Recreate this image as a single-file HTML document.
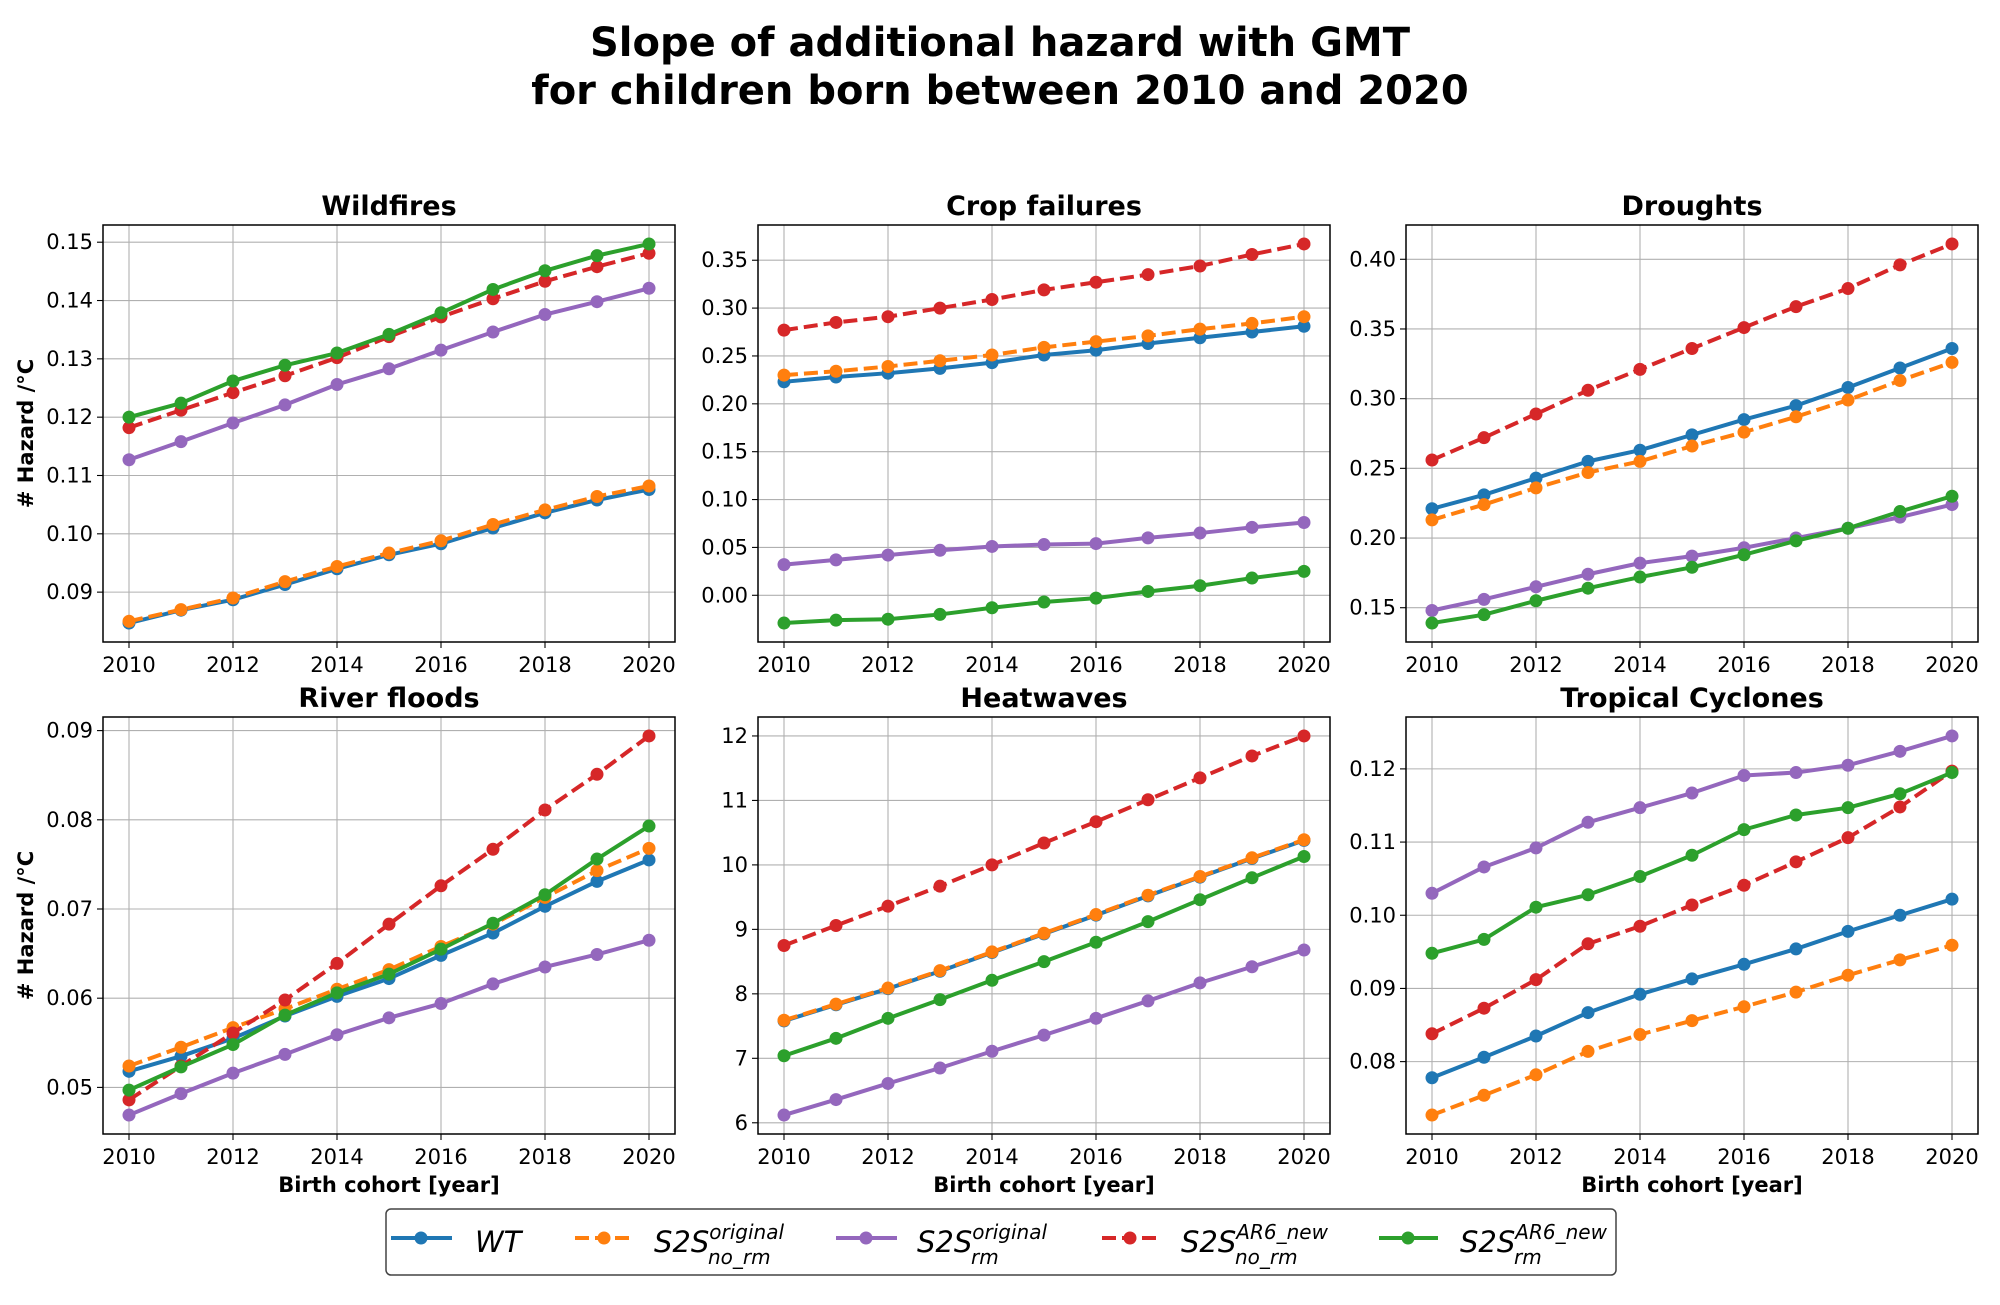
<!DOCTYPE html>
<html><head><meta charset="utf-8"><style>
body{margin:0;background:#fff;width:2000px;height:1300px;overflow:hidden}
svg text{font-family:"DejaVu Sans","Liberation Sans",sans-serif}
</style></head><body>
<svg id="fig" width="2000" height="1300" xmlns="http://www.w3.org/2000/svg">
<text x="1000" y="56" text-anchor="middle" font-size="40" font-weight="bold">Slope of additional hazard with GMT</text>
<text x="1000" y="104" text-anchor="middle" font-size="40" font-weight="bold">for children born between 2010 and 2020</text>
<g id="panels"></g>
<g>
<rect x="386" y="1209" width="1230" height="66" rx="5" fill="#fff" stroke="#444" stroke-width="1.5"/>
<g>
<line x1="391" y1="1238" x2="452" y2="1238" stroke="#1f77b4" stroke-width="4"/><circle cx="421" cy="1238" r="6.5" fill="#1f77b4"/>
<text x="475" y="1252" font-size="29" font-style="italic">WT</text></g>
<g>
<line x1="575" y1="1238" x2="633" y2="1238" stroke="#ff7f0e" stroke-width="4" stroke-dasharray="14,6"/><circle cx="604" cy="1238" r="6.5" fill="#ff7f0e"/>
<text x="654" y="1252" font-size="29" font-style="italic">S2S<tspan font-size="20" dy="-13">original</tspan><tspan font-size="20" x="708" dy="25">no_rm</tspan></text></g>
<g>
<line x1="836" y1="1238" x2="897" y2="1238" stroke="#9467bd" stroke-width="4"/><circle cx="866" cy="1238" r="6.5" fill="#9467bd"/>
<text x="917" y="1252" font-size="29" font-style="italic">S2S<tspan font-size="20" dy="-13">original</tspan><tspan font-size="20" x="971" dy="25">rm</tspan></text></g>
<g>
<line x1="1102" y1="1238" x2="1158" y2="1238" stroke="#d62728" stroke-width="4" stroke-dasharray="14,6"/><circle cx="1130" cy="1238" r="6.5" fill="#d62728"/>
<text x="1181" y="1252" font-size="29" font-style="italic">S2S<tspan font-size="20" dy="-13">AR6_new</tspan><tspan font-size="20" x="1235" dy="25">no_rm</tspan></text></g>
<g>
<line x1="1379" y1="1238" x2="1438" y2="1238" stroke="#2ca02c" stroke-width="4"/><circle cx="1408" cy="1238" r="6.5" fill="#2ca02c"/>
<text x="1460" y="1252" font-size="29" font-style="italic">S2S<tspan font-size="20" dy="-13">AR6_new</tspan><tspan font-size="20" x="1514" dy="25">rm</tspan></text></g>
</g>
</svg>
<script>
const years=[2010,2011,2012,2013,2014,2015,2016,2017,2018,2019,2020];
const xTicks=[2010,2012,2014,2016,2018,2020];
const titles=["Wildfires","Crop failures","Droughts","River floods","Heatwaves","Tropical Cyclones"];
const wtWildfires=[0.0847,0.0869,0.0887,0.0913,0.0940,0.0964,0.0983,0.1010,0.1036,0.1058,0.1076];
const origNoRmWildfires=[0.0850,0.0870,0.0890,0.0918,0.0944,0.0967,0.0988,0.1016,0.1041,0.1064,0.1082];
const origRmWildfires=[0.1127,0.1158,0.1190,0.1221,0.1256,0.1283,0.1315,0.1346,0.1376,0.1398,0.1421];
const ar6NoRmWildfires=[0.1182,0.1212,0.1242,0.1271,0.1302,0.1338,0.1372,0.1403,0.1433,0.1458,0.1481];
const ar6RmWildfires=[0.1200,0.1224,0.1262,0.1289,0.1310,0.1342,0.1379,0.1419,0.1451,0.1477,0.1497];
const wtCrop=[0.223,0.228,0.232,0.237,0.243,0.251,0.256,0.263,0.269,0.275,0.281];
const origNoRmCrop=[0.230,0.234,0.239,0.245,0.251,0.259,0.265,0.271,0.278,0.284,0.291];
const origRmCrop=[0.032,0.037,0.042,0.047,0.051,0.053,0.054,0.060,0.065,0.071,0.076];
const ar6NoRmCrop=[0.277,0.285,0.291,0.300,0.309,0.319,0.327,0.335,0.344,0.356,0.367];
const ar6RmCrop=[-0.029,-0.026,-0.025,-0.020,-0.013,-0.007,-0.003,0.004,0.010,0.018,0.025];
const wtDrought=[0.221,0.231,0.243,0.255,0.263,0.274,0.285,0.295,0.308,0.322,0.336];
const origNoRmDrought=[0.213,0.224,0.236,0.247,0.255,0.266,0.276,0.287,0.299,0.313,0.326];
const origRmDrought=[0.148,0.156,0.165,0.174,0.182,0.187,0.193,0.200,0.207,0.215,0.224];
const ar6NoRmDrought=[0.256,0.272,0.289,0.306,0.321,0.336,0.351,0.366,0.379,0.396,0.411];
const ar6RmDrought=[0.139,0.145,0.155,0.164,0.172,0.179,0.188,0.198,0.207,0.219,0.230];
const wtFlood=[0.0518,0.0535,0.0555,0.0580,0.0602,0.0622,0.0648,0.0673,0.0703,0.0731,0.0755];
const origNoRmFlood=[0.0524,0.0545,0.0567,0.0588,0.0610,0.0632,0.0658,0.0683,0.0713,0.0743,0.0768];
const origRmFlood=[0.0469,0.0493,0.0516,0.0537,0.0559,0.0578,0.0594,0.0616,0.0635,0.0649,0.0665];
const ar6NoRmFlood=[0.0486,0.0524,0.0561,0.0598,0.0639,0.0683,0.0726,0.0767,0.0811,0.0851,0.0894];
const ar6RmFlood=[0.0497,0.0523,0.0548,0.0581,0.0606,0.0627,0.0655,0.0684,0.0716,0.0756,0.0793];
const wtHeat=[7.58,7.83,8.08,8.35,8.64,8.93,9.22,9.52,9.81,10.10,10.38];
const origNoRmHeat=[7.59,7.84,8.09,8.36,8.65,8.94,9.23,9.53,9.82,10.11,10.39];
const origRmHeat=[6.12,6.36,6.61,6.85,7.11,7.36,7.62,7.89,8.17,8.42,8.68];
const ar6NoRmHeat=[8.75,9.06,9.36,9.67,10.00,10.34,10.67,11.01,11.35,11.69,12.00];
const ar6RmHeat=[7.04,7.31,7.62,7.91,8.21,8.50,8.80,9.12,9.46,9.80,10.13];
const wtTC=[0.0778,0.0806,0.0835,0.0867,0.0892,0.0913,0.0933,0.0954,0.0978,0.1000,0.1022];
const origNoRmTC=[0.0727,0.0754,0.0782,0.0814,0.0837,0.0856,0.0875,0.0895,0.0918,0.0939,0.0959];
const origRmTC=[0.1030,0.1066,0.1092,0.1127,0.1147,0.1167,0.1191,0.1195,0.1205,0.1224,0.1245];
const ar6NoRmTC=[0.0838,0.0873,0.0912,0.0961,0.0985,0.1014,0.1041,0.1073,0.1106,0.1148,0.1197];
const ar6RmTC=[0.0948,0.0967,0.1011,0.1028,0.1053,0.1082,0.1117,0.1137,0.1147,0.1166,0.1195];
const yTicksWildfires=[0.09,0.10,0.11,0.12,0.13,0.14,0.15];
const yTicksCrop=[0.00,0.05,0.10,0.15,0.20,0.25,0.30,0.35];
const yTicksDrought=[0.15,0.20,0.25,0.30,0.35,0.40];
const yTicksFlood=[0.05,0.06,0.07,0.08,0.09];
const yTicksHeat=[6,7,8,9,10,11,12];
const yTicksTC=[0.08,0.09,0.10,0.11,0.12];

const panelData=[
 [wtWildfires,origNoRmWildfires,origRmWildfires,ar6NoRmWildfires,ar6RmWildfires],
 [wtCrop,origNoRmCrop,origRmCrop,ar6NoRmCrop,ar6RmCrop],
 [wtDrought,origNoRmDrought,origRmDrought,ar6NoRmDrought,ar6RmDrought],
 [wtFlood,origNoRmFlood,origRmFlood,ar6NoRmFlood,ar6RmFlood],
 [wtHeat,origNoRmHeat,origRmHeat,ar6NoRmHeat,ar6RmHeat],
 [wtTC,origNoRmTC,origRmTC,ar6NoRmTC,ar6RmTC]];
const panelTicks=[yTicksWildfires,yTicksCrop,yTicksDrought,yTicksFlood,yTicksHeat,yTicksTC];
const tickDigits=[2,2,2,2,0,2];
const colors=["#1f77b4","#ff7f0e","#9467bd","#d62728","#2ca02c"];
const dashed=[false,true,false,true,false];
const seriesNames=["wt","s2s-original-no-rm","s2s-original-rm","s2s-ar6-no-rm","s2s-ar6-rm"];
const drawOrder=[0,1,2,3,4];

const NS="http://www.w3.org/2000/svg";
const root=document.getElementById("panels");
function mk(tag,attrs,parent){const e=document.createElementNS(NS,tag);for(const k in attrs)e.setAttribute(k,attrs[k]);parent.appendChild(e);return e;}
const colX=[103,758,1406], W=572, rowY=[225,717], H=417;

for(let p=0;p<6;p++){
 const c=p%3, r=Math.floor(p/3);
 const L=colX[c], T=rowY[r];
 const g=mk("g",{},root);
 
 
 const all=[].concat(...panelData[p]);
 let mn=Math.min(...all), mx=Math.max(...all), rg=mx-mn;
 const y0=mn-0.05*rg, y1=mx+0.05*rg;
 const sx=v=>L+(v-2009.5)/11*W;
 const sy=v=>T+H-(v-y0)/(y1-y0)*H;
 xTicks.forEach(t=>{
  const gl=mk("line",{x1:sx(t),x2:sx(t),y1:T,y2:T+H,stroke:"#b0b0b0","stroke-width":1.1},g);
  
  
  mk("line",{x1:sx(t),x2:sx(t),y1:T+H,y2:T+H+6,stroke:"#000","stroke-width":1.1},g);
  const tl=mk("text",{x:sx(t),y:T+H+30,"text-anchor":"middle","font-size":21},g);
  tl.textContent=t;
  
  
 });
 panelTicks[p].forEach(t=>{
  const gl=mk("line",{x1:L,x2:L+W,y1:sy(t),y2:sy(t),stroke:"#b0b0b0","stroke-width":1.1},g);
  
  
  mk("line",{x1:L-6,x2:L,y1:sy(t),y2:sy(t),stroke:"#000","stroke-width":1.1},g);
  const tl=mk("text",{x:L-10,y:sy(t)+7,"text-anchor":"end","font-size":21},g);
  tl.textContent=t.toFixed(tickDigits[p]);
  
  
 });
 drawOrder.forEach(s=>{
  const vals=panelData[p][s];
  const sg=mk("g",{},g);
  
  
  const pts=vals.map((v,i)=>sx(years[i])+","+sy(v)).join(" ");
  const attrs={points:pts,fill:"none",stroke:colors[s],"stroke-width":4,"stroke-linejoin":"round"};
  if(dashed[s])attrs["stroke-dasharray"]="14,6";
  const pl=mk("polyline",attrs,sg);
  
  
  vals.forEach((v,i)=>{
   const ci=mk("circle",{cx:sx(years[i]),cy:sy(v),r:6.5,fill:colors[s]},sg);
   
   
  });
 });
 const fr=mk("rect",{x:L,y:T,width:W,height:H,fill:"none",stroke:"#000","stroke-width":1.5},g);
 
 
 const ti=mk("text",{x:L+W/2,y:T-10,"text-anchor":"middle","font-size":27,"font-weight":"bold"},g);
 ti.textContent=titles[p];
 
 
 if(c===0){
  const yl=mk("text",{x:0,y:0,"text-anchor":"middle","font-size":21,"font-weight":"bold",transform:`translate(33,${T+H/2}) rotate(-90)`},g);
  yl.textContent="# Hazard /°C";
  
  
 }
 if(r===1){
  const xl=mk("text",{x:L+W/2,y:T+H+58,"text-anchor":"middle","font-size":21,"font-weight":"bold"},g);
  xl.textContent="Birth cohort [year]";
  
  
 }
}
</script>
</body></html>
